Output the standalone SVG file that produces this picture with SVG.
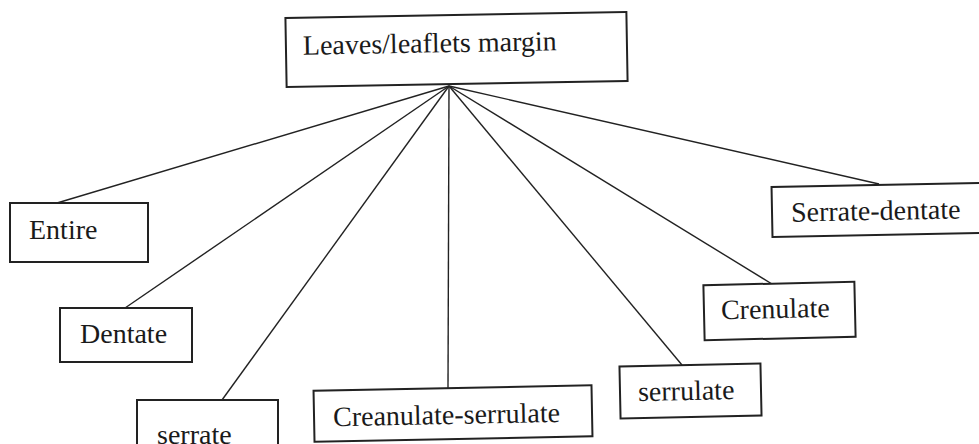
<svg xmlns="http://www.w3.org/2000/svg" width="979" height="444" viewBox="0 0 979 444">
<style>
.box{fill:#fff;stroke:#222;stroke-width:2}
.lbl{font-family:'Liberation Serif','Times New Roman','DejaVu Serif',serif;font-size:28px;fill:#1a1a1a}
.conn line{stroke:#222;stroke-width:1.4}
</style>
<rect width="979" height="444" fill="#fff"/>
<g id="connectors" class="conn">
<line x1="449" y1="86" x2="57" y2="203"/>
<line x1="449" y1="86" x2="125" y2="308"/>
<line x1="449" y1="86" x2="222" y2="400"/>
<line x1="449" y1="86" x2="448" y2="389"/>
<line x1="449" y1="86" x2="682" y2="365"/>
<line x1="449" y1="86" x2="772" y2="284"/>
<line x1="449" y1="86" x2="879" y2="184"/>
</g>
<g id="root" transform="rotate(-1 456.5 49.5)">
<rect class="box" x="286" y="15" width="341" height="69"/>
<text class="lbl" font-family="Liberation Serif, serif" x="303" y="52">Leaves/leaflets margin</text>
</g>
<g id="entire">
<rect class="box" x="10" y="203" width="138" height="59"/>
<text class="lbl" font-family="Liberation Serif, serif" x="29" y="239">Entire</text>
</g>
<g id="dentate">
<rect class="box" x="60" y="308" width="132" height="54"/>
<text class="lbl" font-family="Liberation Serif, serif" x="80" y="343">Dentate</text>
</g>
<g id="serrate">
<rect class="box" x="137" y="400" width="141" height="60"/>
<text class="lbl" font-family="Liberation Serif, serif" x="157" y="444">serrate</text>
</g>
<g id="creanulate-serrulate" transform="rotate(-1.1 453 413.5)">
<rect class="box" x="314" y="388" width="278" height="51"/>
<text class="lbl" font-family="Liberation Serif, serif" x="333" y="424">Creanulate-serrulate</text>
</g>
<g id="serrulate" transform="rotate(-1.2 691 391)">
<rect class="box" x="620" y="365" width="141" height="52"/>
<text class="lbl" font-family="Liberation Serif, serif" x="638" y="400">serrulate</text>
</g>
<g id="crenulate" transform="rotate(-1.3 779.5 311)">
<rect class="box" x="704" y="283.5" width="151" height="55"/>
<text class="lbl" font-family="Liberation Serif, serif" x="721" y="318">Crenulate</text>
</g>
<g id="serrate-dentate" transform="rotate(-1.1 877 210)">
<rect class="box" x="772" y="185" width="210" height="50"/>
<text class="lbl" font-family="Liberation Serif, serif" x="791" y="220">Serrate-dentate</text>
</g>
</svg>
